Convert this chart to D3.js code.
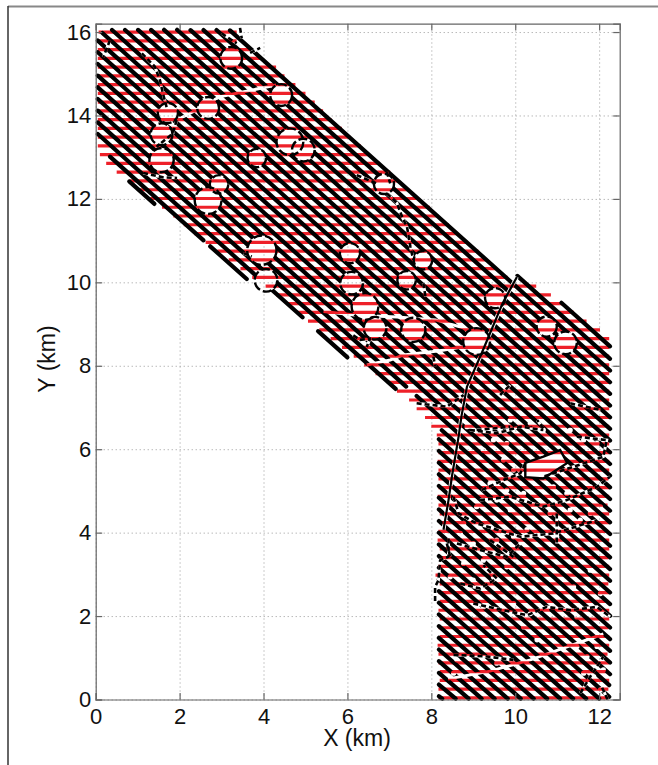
<!DOCTYPE html>
<html>
<head>
<meta charset="utf-8">
<script src="https://d3js.org/d3.v7.min.js"></script>
<style>
  html, body { margin: 0; padding: 0; background: #fff; }
  text { font-family: "Liberation Sans", Arial, sans-serif; fill: #111; }
</style>
</head>
<body>
<svg class="graph-container" width="658" height="765"></svg>
<script>
const xTicks = [0, 2, 4, 6, 8, 10, 12];
const yTicks = [0, 2, 4, 6, 8, 10, 12, 14, 16];

// red horizontal rows, km
const rowY = [0.04,0.25,0.46,0.67,0.88,1.09,1.30,1.51,1.72,1.93,2.14,2.35,2.56,2.77,2.98,3.19,3.40,3.61,3.82,4.03,4.24,4.45,4.66,4.87,5.08,5.29,5.50,5.71,5.92,6.13,6.34,6.55,6.76,6.97,7.18,7.39,7.60,7.81,8.02,8.23,8.44,8.65,8.86,9.07,9.28,9.49,9.70,9.91,10.12,10.33,10.54,10.75,10.96,11.17,11.38,11.59,11.80,12.01,12.22,12.43,12.64,12.85,13.06,13.27,13.48,13.69,13.90,14.11,14.32,14.53,14.74,14.95,15.16,15.37,15.58,15.79,16.00];
const rowStart = [8.17,8.17,8.2,8.2,8.17,8.17,8.15,8.2,8.17,8.2,8.17,8.2,8.17,8.2,8.1,8.17,8.2,8.2,8.15,8.17,8.2,8.2,8.17,8.15,8.17,8.17,8.17,8.15,8.17,8.17,8.13,8.0,7.85,7.65,7.47,7.18,6.95,6.67,6.4,6.15,5.87,5.6,5.33,5.06,4.8,4.55,4.3,4.05,3.73,3.45,3.17,2.9,2.62,2.35,2.1,1.85,1.58,1.3,1.05,0.8,0.5,0.25,0.1,0.05,0.05,0.05,0.05,0.05,0.05,0.05,0.05,0.05,0.05,0.05,0.05,0.05,0.07];
const rowEnd = [12.22,12.22,12.24,12.22,12.24,12.2,12.24,12.24,12.22,12.24,12.24,12.22,12.24,12.22,12.24,12.24,12.22,12.24,12.24,12.22,12.24,12.24,12.2,12.24,12.24,12.22,12.24,12.24,12.24,12.24,12.24,12.24,12.24,12.24,12.24,12.24,12.24,12.24,12.24,12.24,12.24,12.24,12.02,11.7,11.4,11.15,10.85,10.5,9.82,9.57,9.32,9.12,8.87,8.62,8.42,8.17,7.97,7.67,7.47,7.22,7.02,6.77,6.52,6.32,6.07,5.87,5.62,5.42,5.22,5.0,4.76,4.5,4.3,3.96,3.7,3.36,3.36];

// black diagonal lines: y = c - slope * x, drawn between diagStart and diagEnd
const diagSlope = 0.9;
const diagC = [19.5,19.2,18.92,18.64,18.36,18.08,17.8,17.52,17.24,16.96,16.68,16.4,16.12,15.84,15.56,15.28,15.0,14.72,14.44,14.16,14.16,13.88,13.88,13.6,13.6,13.6,13.32,13.32,13.32,13.14,13.04,12.76,12.48,12.2,11.92,11.64,11.36,11.08,10.8,10.52,10.24,9.96,9.68,9.4,9.12,8.84,8.56,8.28,8.0,7.72,7.44];
const diagStart = [11.1,10.05,3.2,2.88,2.57,2.26,1.94,1.63,1.32,1.01,0.7,0.39,0.16,0.05,0.05,0.05,0.05,0.05,0.05,0.05,7.65,0.05,8.25,0.05,5.3,8.18,0.34,2.73,8.18,0.8,8.18,8.18,8.18,8.18,8.18,8.18,8.18,8.18,8.18,8.18,8.18,8.18,8.18,8.18,8.18,8.18,8.18,8.18,8.18,8.18,8.18];
const diagEnd = [12.26,12.26,12.26,12.26,12.26,12.26,12.26,12.26,12.26,12.26,12.26,12.26,12.26,12.26,12.26,12.26,12.26,12.26,12.26,7.4,12.26,7.15,12.26,4.93,6.0,12.26,2.57,3.6,12.26,1.4,12.26,12.26,12.26,12.26,12.26,12.26,12.24,12.24,12.0,11.69,11.38,11.07,10.76,10.44,10.13,9.82,9.51,9.2,8.89,8.58,8.26];

// round holes in the mesh
const holeX = [3.23,1.72,2.68,4.42,1.57,1.57,3.84,4.63,4.95,2.94,2.68,6.87,3.96,4.06,6.06,6.1,6.42,6.66,7.41,7.8,7.57,9.08,9.52,10.75,11.2];
const holeY = [15.38,14.06,14.18,14.49,13.55,12.93,12.98,13.37,13.17,12.35,11.96,12.36,10.77,10.05,10.7,9.98,9.42,8.9,10.05,10.53,8.86,8.58,9.62,8.94,8.55];
const holeR = [0.26,0.24,0.26,0.26,0.26,0.29,0.22,0.32,0.27,0.22,0.32,0.24,0.35,0.27,0.24,0.27,0.32,0.27,0.22,0.22,0.29,0.32,0.24,0.24,0.27];

// white lens in the lower block
const lens = [[10.24,5.67],[10.24,5.33],[10.67,5.3],[11.24,5.67],[11.07,5.98],[10.67,5.82]];

// long fault running down from the top of the block
const mainFault = [[10.04,10.13],[9.7,9.5],[9.2,8.3],[8.85,7.5],[8.72,6.8],[8.65,6.3],[8.49,5.34],[8.41,4.78],[8.29,4.07]];

// cuts through the diagonals, no black seam
const whiteCuts = [
  [[8.4,0.49],[9.4,0.68],[10.36,0.95],[11.2,1.25],[12.1,1.57]],
  [[4.3,14.73],[2.96,14.45],[2.32,14.09],[1.93,13.89]],
  [[5.43,9.3],[6.22,9.21],[7.18,9.17],[8.1,9.1],[8.8,8.9]],
  [[6.46,8.02],[7.02,8.14],[7.34,8.26],[8.2,8.36],[8.9,8.48]]
];

// small black seams, also cutting the diagonals
const seams = [
  [[8.41,3.86],[8.41,3.42],[8.21,3.34],[8.17,2.86],[8.09,2.7],[8.09,2.34]],
  [[8.69,2.78],[9.16,2.66],[9.56,2.9],[9.24,3.22]],
  [[8.61,3.74],[9.32,3.54],[9.8,3.42],[10.12,3.74]],
  [[9.0,2.3],[9.72,2.14],[10.28,2.02],[10.75,2.22],[11.31,2.14],[11.95,2.22],[12.26,1.98]],
  [[8.53,1.07],[9.32,1.03],[9.96,0.95]],
  [[11.55,0.15],[11.79,0.55],[11.95,0.79],[12.1,1.03]],
  [[12.2,0],[12.06,0.31]],
  [[8.92,6.46],[9.56,6.38],[10.12,6.54],[10.67,6.46]],
  [[9.2,5.02],[9.72,5.26],[10.12,5.42],[10.24,5.66]],
  [[9.16,4.78],[9.88,4.86],[10.67,4.62],[11.23,4.78],[11.95,5.1],[12.26,5.34]],
  [[11.47,6.3],[12.18,6.22],[12.1,5.82],[11.63,5.66],[10.67,5.34]],
  [[8.53,4.86],[8.65,4.46],[9.08,4.22],[10.12,3.9],[10.91,3.98],[11.95,4.3]],
  [[8.37,3.74],[8.45,3.42]],
  [[9.4,3.82],[9.96,3.42]],
  [[10.99,4.46],[10.99,3.74]],
  [[0.34,15.8],[0.18,15.4]],
  [[1.1,15.49],[1.41,15.17],[1.53,14.85],[1.6,14.54],[1.69,14.2]],
  [[3.0,15.97],[3.36,15.73]],
  [[3.44,16.1],[3.48,15.85]],
  [[3.68,15.5],[3.92,15.62]],
  [[1.13,12.62],[1.6,12.52],[1.94,12.5]],
  [[1.93,13.89],[1.84,13.57],[1.45,13.25]],
  [[6.14,8.73],[6.3,8.62],[6.54,8.65],[6.46,8.45]],
  [[7.81,9.98],[7.86,9.66]],
  [[8.05,8.22],[8.09,7.98]],
  [[7.65,7.1],[8.37,7.02],[8.77,7.3]],
  [[9.64,7.3],[9.88,7.54]],
  [[11.31,7.1],[12.03,6.94]],
  [[9.08,6.46],[9.88,6.54]],
  [[10.67,6.5],[10.52,6.7]],
  [[6.22,12.57],[6.7,12.37]],
  [[6.94,12.65],[7.02,12.37]],
  [[6.94,12.13],[7.18,11.9],[7.3,11.58],[7.42,11.33],[7.5,10.86],[7.57,10.54]],
  [[3.52,10.7],[3.72,10.62]]
];

// small breaks in the diagonals of the lower block
const nickX = [8.85,9.4,9.88,10.36,10.67,9.48,9.8,9.24,9.72,9.96,9.4,9.8,10.2,10.91,11.23,11.79,9.08,9.56,9.88,10.44,10.83,11.31,11.79,8.77,9.16,9.72,10.28,10.99,11.55,12.03,11.63,11.95,11.31,8.69,9.0,9.56,9.96,10.99,8.77,9.24,9.8,8.45,9.0,9.48,11.39,11.79,12.03,9.24,9.96,10.36,10.75,11.47,10.2,10.52,11.47,11.71,11.95,11.63,11.87,12.1,12.03,8.61,9.56,8.53];
const nickY = [6.54,6.46,6.7,6.62,6.46,6.22,6.14,5.98,5.74,5.5,5.18,5.02,4.94,5.1,4.94,5.1,4.62,4.78,4.54,4.62,4.46,4.54,4.46,4.22,4.14,3.99,4.07,3.99,4.3,4.62,6.22,6.14,6.46,3.98,3.74,3.82,3.9,3.9,3.26,3.34,3.18,2.94,2.86,2.94,2.7,3.1,2.54,2.22,2.3,2.06,2.14,1.98,1.74,1.43,1.27,1.03,1.27,0.63,0.55,0.71,0.23,0.95,0.87,0.63];

const svg = d3.select(".graph-container");
const margin = { top: 23.7, right: 38.3, bottom: 65.5, left: 95.7 };
const innerWidth = 658 - margin.left - margin.right;
const innerHeight = 765 - margin.top - margin.bottom;

const xScale = d3.scaleLinear().domain([0, 12.49]).range([0, innerWidth]);
const yScale = d3.scaleLinear().domain([0, 16.2]).range([innerHeight, 0]);

// outer figure edge
svg.append("line").attr("x1", 8).attr("x2", 658).attr("y1", 6.5).attr("y2", 6.5)
  .attr("stroke", "#888").attr("stroke-width", 2);
svg.append("line").attr("x1", 8).attr("x2", 8).attr("y1", 6).attr("y2", 765)
  .attr("stroke", "#333").attr("stroke-width", 1.5);

const g = svg.append("g").attr("transform", `translate(${margin.left},${margin.top})`);

// dotted grid
g.append("g").attr("class", "grid")
  .attr("transform", `translate(0,${innerHeight})`)
  .call(d3.axisBottom(xScale).tickValues(xTicks).tickSize(-innerHeight));
g.append("g").attr("class", "grid")
  .call(d3.axisLeft(yScale).tickValues(yTicks).tickSize(-innerWidth));
g.selectAll(".grid .domain, .grid text").remove();
g.selectAll(".grid line").attr("stroke", "#999").attr("stroke-dasharray", "1,3");

const line = d3.line().x((d) => xScale(d[0])).y((d) => yScale(d[1]));

// mask takes the holes and cuts out of the diagonals only
const mask = svg.append("defs").append("mask").attr("id", "mesh-mask")
  .attr("maskUnits", "userSpaceOnUse")
  .attr("x", -100).attr("y", -100).attr("width", 900).attr("height", 900);
mask.append("rect").attr("x", -100).attr("y", -100).attr("width", 900).attr("height", 900).attr("fill", "#fff");
mask.selectAll("circle.hole").data(holeX).enter().append("circle")
  .attr("class", "hole")
  .attr("cx", (d) => xScale(d))
  .attr("cy", (d, i) => yScale(holeY[i]))
  .attr("r", (d, i) => xScale(holeR[i]))
  .attr("fill", "#000");
mask.selectAll("circle.nick").data(nickX).enter().append("circle")
  .attr("class", "nick")
  .attr("cx", (d) => xScale(d))
  .attr("cy", (d, i) => yScale(nickY[i]))
  .attr("r", 2.6)
  .attr("fill", "#000");
mask.append("path").attr("d", line(lens) + "Z").attr("fill", "#000");
mask.append("path").attr("d", line(mainFault)).attr("fill", "none")
  .attr("stroke", "#000").attr("stroke-width", 4);
mask.selectAll("path.cut").data(whiteCuts.concat(seams)).enter().append("path")
  .attr("class", "cut")
  .attr("d", line)
  .attr("fill", "none")
  .attr("stroke", "#000")
  .attr("stroke-width", 3);

// red rows
g.selectAll(".row").data(rowY).enter().append("line")
  .attr("class", "row")
  .attr("x1", (d, i) => xScale(rowStart[i]))
  .attr("x2", (d, i) => xScale(rowEnd[i]))
  .attr("y1", (d) => yScale(d))
  .attr("y2", (d) => yScale(d))
  .attr("stroke", "#ee2029")
  .attr("stroke-width", 3.2);

// black diagonals
g.append("g").attr("mask", "url(#mesh-mask)")
  .selectAll(".diag").data(diagC).enter().append("line")
  .attr("class", "diag")
  .attr("x1", (d, i) => xScale(diagStart[i]))
  .attr("x2", (d, i) => xScale(diagEnd[i]))
  .attr("y1", (d, i) => yScale(Math.max(0.02, d - diagSlope * diagStart[i])))
  .attr("y2", (d, i) => yScale(Math.max(0.02, d - diagSlope * diagEnd[i])))
  .attr("stroke", "#000")
  .attr("stroke-width", 4.2)
  .attr("stroke-linecap", "round");

// seams and hole rims
g.append("path").attr("d", line(mainFault)).attr("fill", "none")
  .attr("stroke", "#000").attr("stroke-width", 2.2).attr("stroke-linejoin", "round");
g.selectAll(".seam").data(seams).enter().append("path")
  .attr("class", "seam")
  .attr("d", line)
  .attr("fill", "none")
  .attr("stroke", "#000")
  .attr("stroke-width", 2.6)
  .attr("stroke-dasharray", "5,3")
  .attr("stroke-linejoin", "round");
g.selectAll(".rim").data(holeX).enter().append("circle")
  .attr("class", "rim")
  .attr("cx", (d) => xScale(d))
  .attr("cy", (d, i) => yScale(holeY[i]))
  .attr("r", (d, i) => xScale(holeR[i]))
  .attr("fill", "none")
  .attr("stroke", "#000")
  .attr("stroke-width", 2.4)
  .attr("stroke-dasharray", "9,3");
g.append("path").attr("d", line(lens) + "Z").attr("fill", "none")
  .attr("stroke", "#000").attr("stroke-width", 2.4);

// axes, ticks pointing in on all four sides
const xAxis = g.append("g").attr("transform", `translate(0,${innerHeight})`)
  .call(d3.axisBottom(xScale).tickValues(xTicks).tickSize(-6.5).tickPadding(9));
const yAxis = g.append("g")
  .call(d3.axisLeft(yScale).tickValues(yTicks).tickSize(-6.5).tickPadding(4.5));
const topAxis = g.append("g")
  .call(d3.axisTop(xScale).tickValues(xTicks).tickSize(-6.5));
const rightAxis = g.append("g").attr("transform", `translate(${innerWidth},0)`)
  .call(d3.axisRight(yScale).tickValues(yTicks).tickSize(-6.5));
topAxis.selectAll("text").remove();
rightAxis.selectAll("text").remove();
[xAxis, yAxis, topAxis, rightAxis].forEach((a) => {
  a.selectAll(".domain").attr("stroke", "#666").attr("stroke-width", 1.2);
  a.selectAll("line").attr("stroke", "#666").attr("stroke-width", 1.2);
  a.selectAll("text").style("font-size", "22px").style("font-family", '"Liberation Sans", Arial, sans-serif').attr("fill", "#111");
});

svg.append("text").attr("x", 357).attr("y", 746).attr("text-anchor", "middle")
  .style("font-size", "23px").text("X (km)");
svg.append("text").attr("transform", "translate(55,359) rotate(-90)").attr("text-anchor", "middle")
  .style("font-size", "23px").text("Y (km)");
</script>
</body>
</html>
